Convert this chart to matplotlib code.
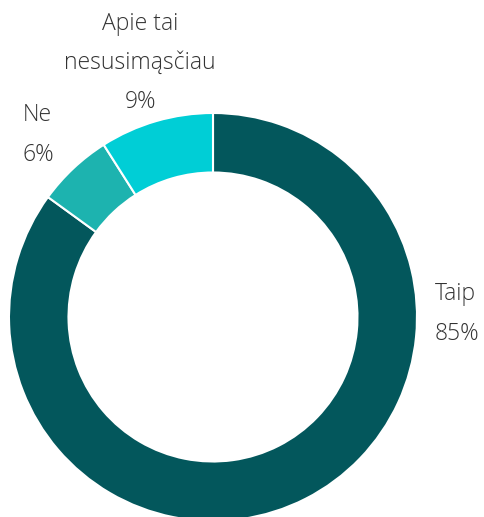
import matplotlib.pyplot as plt

labels = ["Taip", "Ne", "Apie tai\nnesusimąsčiau"]
values = [85, 6, 9]
colors = ["#03575C", "#1DB3AF", "#00CED6"]

# label anchor points (pixels from top-left) and alignment
label_pos = [(435, 314, "left"), (23, 135, "left"), (140, 63, "center")]

W, H = 484, 517
fig = plt.figure(figsize=(W / 100, H / 100), dpi=100)
ax = fig.add_axes([0, 0, 1, 1])

ax.pie(values, colors=colors, startangle=90, counterclock=False,
       center=(213, H - 317), radius=204,
       wedgeprops=dict(width=59.5, edgecolor="white", linewidth=1.5))

# pie() resets the limits, so set them afterwards
ax.set_xlim(0, W)
ax.set_ylim(0, H)
ax.set_aspect("equal")
ax.axis("off")

for lab, val, (x, y, ha) in zip(labels, values, label_pos):
    ax.text(x, H - y, f"{lab}\n{val}%", ha=ha, va="center",
            fontsize=16.5, color="#333333", linespacing=1.85,
            family="Open Sans", fontweight="light")

fig.savefig("out.png", dpi=100)
